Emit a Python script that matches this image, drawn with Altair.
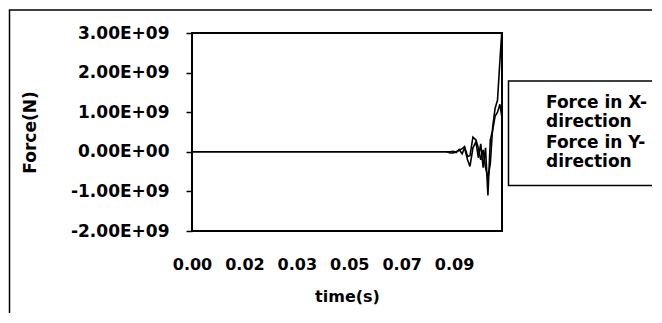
import json
import altair as alt
import pandas as pd

# ---- data ----
time_s = [0.0, 0.02, 0.04, 0.06, 0.08, 0.085, 0.0862, 0.0872, 0.0882, 0.0892, 0.0902,
          0.0910, 0.0920, 0.0928, 0.0938, 0.0948, 0.0956, 0.0964, 0.0972, 0.0980,
          0.0988, 0.0996, 0.1004, 0.1012, 0.1020, 0.1028, 0.1034]
force_x = [0, 0, 0, 0, 0, 0, -0.03e9, -0.03e9, 0.0, 0.04e9, 0.08e9,
           0.13e9, -0.12e9, -0.10e9, 0.37e9, 0.30e9, 0.10e9, -0.20e9, 0.05e9, -0.40e9,
           -0.66e9, -0.30e9, 0.64e9, 1.10e9, 1.30e9, 2.30e9, 3.00e9]
force_y = [0, 0, 0, 0, 0, 0, 0.0, 0.01e9, -0.02e9, 0.06e9, -0.05e9,
           0.10e9, -0.20e9, -0.37e9, 0.10e9, 0.25e9, -0.15e9, 0.20e9, -0.40e9, 0.10e9,
           -1.10e9, 0.30e9, 0.55e9, 0.90e9, 1.00e9, 1.20e9, 0.90e9]
series_names = ["Force in X-direction", "Force in Y-direction"]
legend_lines = [["Force in X-", "direction"], ["Force in Y-", "direction"]]

x_tick_values = [0.0, 0.0175, 0.035, 0.0525, 0.07, 0.0875]
x_tick_labels = ["0.00", "0.02", "0.03", "0.05", "0.07", "0.09"]
y_tick_values = [-2000000000, -1000000000, 0, 1000000000, 2000000000, 3000000000]
y_tick_labels = ["-2.00E+09", "-1.00E+09", "0.00E+00", "1.00E+09", "2.00E+09", "3.00E+09"]

x_title = "time(s)"
y_title = "Force(N)"

FONT = "DejaVu Sans"

rows = []
for t, fx in zip(time_s, force_x):
    rows.append({"time": t, "force": fx, "series": series_names[0]})
for t, fy in zip(time_s, force_y):
    rows.append({"time": t, "force": fy, "series": series_names[1]})
df = pd.DataFrame(rows)

x_label_expr = f"{json.dumps(x_tick_labels)}[indexof({json.dumps(x_tick_values)}, datum.value)]"
y_label_expr = f"{json.dumps(y_tick_labels)}[indexof({json.dumps(y_tick_values)}, datum.value)]"
legend_label_expr = f"{json.dumps(legend_lines)}[indexof({json.dumps(series_names)}, datum.label)]"

lines = alt.Chart(df).mark_line(strokeWidth=1.6, strokeJoin="miter").encode(
    x=alt.X("time:Q",
            scale=alt.Scale(domain=[0, 0.1035], nice=False, zero=False),
            axis=alt.Axis(values=x_tick_values, labelExpr=x_label_expr, title=x_title,
                          ticks=False, tickSize=0, domain=False, grid=False,
                          labelPadding=25, titlePadding=16,
                          labelFont=FONT, labelFontSize=16, labelFontWeight="bold",
                          labelColor="black", titleFont=FONT, titleFontSize=16,
                          titleFontWeight="bold", titleColor="black", labelFlush=False)),
    y=alt.Y("force:Q",
            scale=alt.Scale(domain=[-2000000000, 3000000000], nice=False),
            axis=alt.Axis(values=y_tick_values, labelExpr=y_label_expr, title=y_title,
                          ticks=True, tickSize=6, tickColor="black", tickWidth=1.5,
                          domain=False, grid=False, labelPadding=17, titlePadding=31,
                          labelFont=FONT, labelFontSize=17, labelFontWeight="bold",
                          labelColor="black", titleFont=FONT, titleFontSize=17,
                          titleFontWeight="bold", titleColor="black", labelFlush=False)),
    color=alt.Color("series:N",
                    scale=alt.Scale(domain=series_names, range=["black", "black"]),
                    legend=alt.Legend(orient="none", legendX=316, legendY=48,
                                      title=None, padding=12,
                                      symbolType="stroke", symbolSize=289, symbolOpacity=0,
                                      labelOffset=7, labelExpr=legend_label_expr,
                                      labelFont=FONT, labelFontSize=17,
                                      labelFontWeight="bold", labelColor="black",
                                      labelLimit=400, rowPadding=3)),
)

deco = pd.DataFrame({"k": [0]})
frame = alt.Chart(deco).mark_rect(
    filled=False, stroke="black", strokeWidth=1.5
).encode(
    x=alt.value(-182.5), x2=alt.value(700), y=alt.value(-23), y2=alt.value(500)
)
legend_box = alt.Chart(deco).mark_rect(
    filled=False, stroke="black", strokeWidth=1.5
).encode(
    x=alt.value(316.5), x2=alt.value(700), y=alt.value(48), y2=alt.value(152.5)
)

chart = alt.layer(frame, legend_box, lines).properties(
    width=310, height=198,
    autosize=alt.AutoSizeParams(type="none"),
    padding={"left": 184, "top": 25, "right": 150, "bottom": 82},
    background="white",
).configure_view(stroke="black", strokeWidth=2)

chart.save("out.html", embed_options={"renderer": "svg", "actions": False})
